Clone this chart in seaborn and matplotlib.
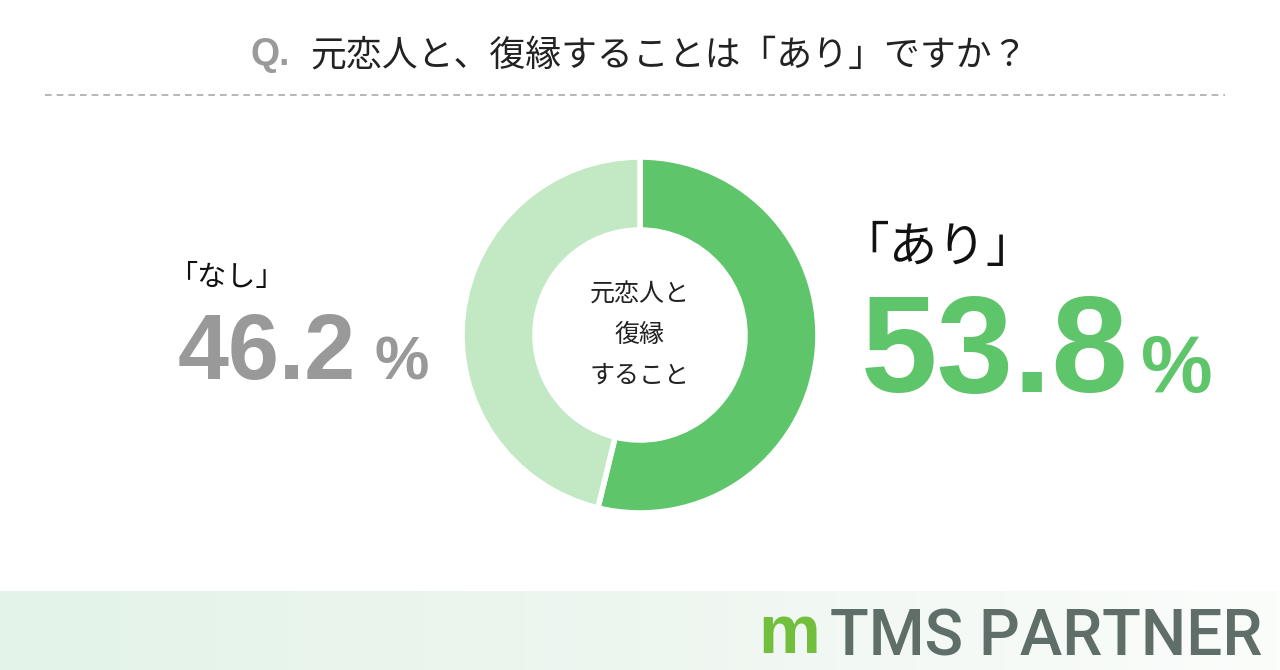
import numpy as np
import seaborn as sns
import matplotlib.pyplot as plt

# data
labels = ["あり", "なし"]
shares = [53.8, 46.2]
colors = ["#5ec56b", "#c2e8c4"]
title = "元恋人と、復縁することは「あり」ですか？"
center_label = "元恋人と\n復縁\nすること"

sns.set_theme(style="white")
plt.rcParams['font.family'] = ['Noto Sans CJK JP', 'DejaVu Sans']

W, H = 1280, 670
fig = plt.figure(figsize=(W / 100, H / 100), dpi=100)
fig.patch.set_facecolor("white")


def px(x, y):
    return x / W, 1 - y / H


# bottom gradient band
band = fig.add_axes([0, 0, 1, 79 / H])
grad = np.linspace(0, 1, 256).reshape(1, -1)
cmap = sns.blend_palette(["#e3f3e9", "#eef6f0", "#fbfdfb"], as_cmap=True)
band.imshow(grad, aspect="auto", cmap=cmap, extent=[0, 1, 0, 1])
band.axis("off")

# title
fig.text(*px(251, 55), "Q.", color="#9a9a9a", fontsize=27, fontweight="bold",
         family=['Liberation Sans'], ha="left", va="center")
fig.text(*px(310, 55), title, color="#222222", fontsize=25.8, ha="left", va="center")

# dashed separator
fig.add_artist(plt.Line2D([45 / W, 1225 / W], [1 - 95 / H, 1 - 95 / H],
                          color="#aaaaaa", lw=1.2, ls=(0, (4, 3))))

# donut
cx, cy, r = 640, 335, 178
ax = fig.add_axes([(cx - r) / W, 1 - (cy + r) / H, 2 * r / W, 2 * r / H])
ax.pie(shares, colors=colors, startangle=90, counterclock=False,
       wedgeprops=dict(width=73 / r, edgecolor="white", linewidth=4))
ax.set_xlim(-1.0, 1.0)
ax.set_ylim(-1.0, 1.0)
ax.set_aspect("equal")
ax.axis("off")
ax.text(0, 0, center_label, ha="center", va="center", fontsize=18,
        color="#222222", linespacing=1.72)

# right label
fig.text(*px(840, 248), "「" + labels[0] + "」", color="#111111", fontsize=35,
         ha="left", va="center")
fig.text(*px(861, 392), f"{shares[0]}", color=colors[0], fontsize=99,
         fontweight="bold", family=['Liberation Sans'], ha="left", va="baseline")
fig.text(*px(1141, 392), "%", color=colors[0], fontsize=58,
         fontweight="bold", family=['Liberation Sans'], ha="left", va="baseline")

# left label
fig.text(*px(168, 278), "「" + labels[1] + "」", color="#111111", fontsize=21,
         ha="left", va="center")
fig.text(*px(178, 379), f"{shares[1]}", color="#999999", fontsize=66,
         fontweight="bold", family=['Liberation Sans'], ha="left", va="baseline")
fig.text(*px(374, 380), "%", color="#999999", fontsize=44,
         fontweight="bold", family=['Liberation Sans'], ha="left", va="baseline")

# logo
fig.text(*px(758, 653), "m", color="#72bf3e", fontsize=50, fontweight="bold",
         family=['Liberation Sans'], ha="left", va="baseline")
fig.text(*px(830, 655), "TMS PARTNER", color="#5f6e68", fontsize=46,
         fontweight="medium", family=['Roboto'], ha="left", va="baseline")

fig.savefig("out.png", dpi=100, facecolor="white")
